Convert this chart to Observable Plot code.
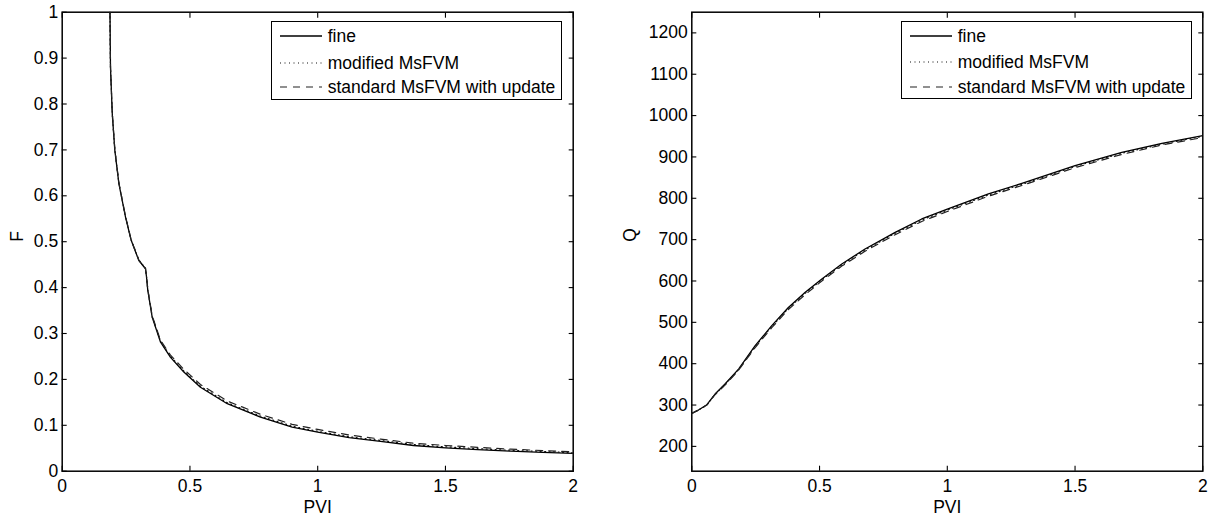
<!DOCTYPE html>
<html>
<head>
<meta charset="utf-8">
<script src="https://cdn.jsdelivr.net/npm/d3@7"></script>
<script src="https://cdn.jsdelivr.net/npm/@observablehq/plot@0.6"></script>
<style>
  html, body { margin: 0; padding: 0; background: #fff; }
  #wrap { position: relative; width: 1219px; height: 522px; font-family: "Liberation Sans", Arial, Helvetica, sans-serif; }
  #wrap svg { position: absolute; top: 0; }
  .legend { position: absolute; box-sizing: border-box; border: 1.5px solid #000; background: #fff; }
  .legend .row { position: absolute; left: 0; height: 20px; width: 100%; }
  .legend .row svg { position: absolute; left: 8px; top: 0; }
  .legend .row span { position: absolute; left: 56px; top: 0; line-height: 20px; font-size: 17.5px; color: #000; white-space: nowrap; }
</style>
</head>
<body>
<div id="wrap"></div>
<script>
// ---------- data ----------
const seriesNames = ["fine", "modified MsFVM", "standard MsFVM with update"];

// Left panel: F vs PVI
const pviF   = [0.187, 0.189, 0.196, 0.206, 0.222, 0.248, 0.270, 0.300, 0.326, 0.330, 0.335, 0.352, 0.385, 0.424, 0.476, 0.541, 0.646, 0.776, 0.900, 1.000, 1.123, 1.246, 1.375, 1.500, 1.625, 1.755, 1.880, 2.000];
const F_fine = [1.000, 0.880, 0.778, 0.699, 0.626, 0.553, 0.503, 0.459, 0.441, 0.423, 0.394, 0.336, 0.281, 0.248, 0.216, 0.183, 0.147, 0.118, 0.096, 0.085, 0.073, 0.065, 0.056, 0.051, 0.047, 0.0436, 0.041, 0.039];
const F_mod  = [1.000, 0.881, 0.779, 0.700, 0.627, 0.554, 0.504, 0.460, 0.442, 0.424, 0.395, 0.337, 0.283, 0.250, 0.218, 0.185, 0.149, 0.120, 0.098, 0.087, 0.075, 0.067, 0.058, 0.053, 0.049, 0.0455, 0.043, 0.040];
const F_std  = [1.000, 0.882, 0.780, 0.701, 0.628, 0.555, 0.504, 0.460, 0.442, 0.425, 0.397, 0.339, 0.285, 0.253, 0.222, 0.189, 0.153, 0.124, 0.102, 0.091, 0.079, 0.070, 0.061, 0.056, 0.052, 0.048, 0.045, 0.042];

// Right panel: Q vs PVI
const pviQ   = [0.000, 0.026, 0.059, 0.091, 0.130, 0.183, 0.248, 0.313, 0.378, 0.444, 0.509, 0.587, 0.678, 0.796, 0.900, 1.000, 1.161, 1.292, 1.500, 1.683, 1.840, 2.000];
const Q_fine = [279.8, 287.9, 300.8, 326.6, 350.8, 387.0, 443.5, 492.0, 536.0, 572.6, 605.0, 641.0, 677.4, 717.7, 750.0, 774.0, 810.5, 836.0, 879.0, 911.0, 933.0, 951.6];
const Q_mod  = [279.8, 287.7, 300.4, 325.8, 349.6, 385.5, 441.5, 490.0, 534.0, 570.5, 603.0, 639.0, 675.0, 715.5, 747.5, 771.5, 808.0, 833.5, 877.0, 909.0, 931.0, 950.0];
const Q_std  = [279.8, 287.5, 300.0, 325.0, 348.0, 384.0, 439.0, 487.0, 531.0, 567.0, 600.0, 636.0, 672.0, 712.0, 744.0, 768.0, 805.0, 831.0, 874.0, 906.0, 929.0, 947.0];

const xTicks = [0, 0.5, 1, 1.5, 2];
const fTicks = [0, 0.1, 0.2, 0.3, 0.4, 0.5, 0.6, 0.7, 0.8, 0.9, 1];
const qTicks = [200, 300, 400, 500, 600, 700, 800, 900, 1000, 1100, 1200];

// ---------- styles ----------
const lineStyles = [
  {stroke: "#000", strokeWidth: 1.3, strokeDasharray: null},
  {stroke: "#111", strokeWidth: 1.2, strokeDasharray: "1,3.5"},
  {stroke: "#222", strokeWidth: 1.2, strokeDasharray: "7,6"}
];

const fmt = d => String(d);

function rows(xs, ys) { return xs.map((x, i) => ({x, y: ys[i]})); }

function panel({xs, ys, yDomain, yTicks, yLabel, width, marginLeft, marginRight, labelDx}) {
  const marks = [
    Plot.frame({stroke: "#000", strokeWidth: 1.5}),
    Plot.axisX(xTicks, {tickSize: -5, fill: "none", label: null, strokeWidth: 1.1}),
    Plot.axisX(xTicks, {anchor: "top", tickSize: -5, fill: "none", label: null, strokeWidth: 1.1}),
    Plot.axisY(yTicks, {tickSize: -5, fill: "none", label: null, strokeWidth: 1.1}),
    Plot.axisY(yTicks, {anchor: "right", tickSize: -5, fill: "none", label: null, strokeWidth: 1.1}),
    Plot.axisX(xTicks, {tickSize: 0, tickPadding: 8, label: null, fill: "#000", tickFormat: fmt}),
    Plot.axisY(yTicks, {tickSize: 0, tickPadding: 4, label: null, fill: "#000", tickFormat: fmt}),
    Plot.text(["PVI"], {frameAnchor: "bottom", dy: 42, fill: "#000"}),
    Plot.text([yLabel], {frameAnchor: "left", dx: labelDx, rotate: -90, fill: "#000"})
  ];
  ys.forEach((arr, k) => {
    marks.push(Plot.line(rows(xs, arr), {x: "x", y: "y", clip: true, ...lineStyles[k]}));
  });
  return Plot.plot({
    width, height: 522,
    marginLeft, marginRight, marginTop: 11.7, marginBottom: 51.3,
    x: {domain: [0, 2]},
    y: {domain: yDomain},
    style: {fontFamily: '"Liberation Sans", Arial, Helvetica, sans-serif', fontSize: "17.5px", color: "#000", background: "transparent", overflow: "visible"},
    marks
  });
}

const wrap = document.getElementById("wrap");

const left = panel({xs: pviF, ys: [F_fine, F_mod, F_std], yDomain: [0, 1], yTicks: fTicks, yLabel: "F",
  width: 609, marginLeft: 61.7, marginRight: 36.3, labelDx: -45});
left.style.left = "0px";
wrap.appendChild(left);

const right = panel({xs: pviQ, ys: [Q_fine, Q_mod, Q_std], yDomain: [140, 1250], yTicks: qTicks, yLabel: "Q",
  width: 610, marginLeft: 82.3, marginRight: 16.7, labelDx: -61});
right.style.left = "609px";
wrap.appendChild(right);

function legend(leftPx, topPx, widthPx, heightPx) {
  const box = document.createElement("div");
  box.className = "legend";
  Object.assign(box.style, {left: leftPx + "px", top: topPx + "px", width: widthPx + "px", height: heightPx + "px"});
  const rowY = [14, 40.5, 65];
  seriesNames.forEach((name, k) => {
    const row = document.createElement("div");
    row.className = "row";
    row.style.top = (rowY[k] - 10) + "px";
    const s = lineStyles[k];
    row.innerHTML = `<svg width="43" height="20"><line x1="0" x2="42" y1="10" y2="10" stroke="${s.stroke}" stroke-width="${s.strokeWidth}" ${s.strokeDasharray ? `stroke-dasharray="${s.strokeDasharray}"` : ""}/></svg><span>${name}</span>`;
    box.appendChild(row);
  });
  wrap.appendChild(box);
}
legend(270.7, 21, 291, 78.5);
legend(900.7, 20.5, 291.3, 78.5);
</script>
</body>
</html>
